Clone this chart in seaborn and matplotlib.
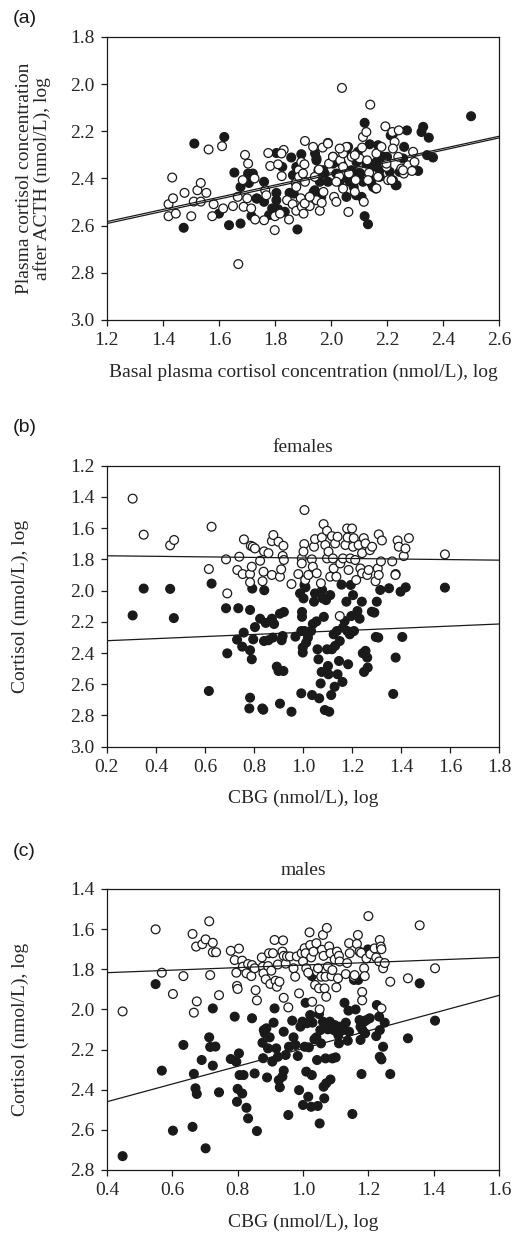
import matplotlib
matplotlib.use("Agg")
import matplotlib.pyplot as plt
import seaborn as sns
import pandas as pd

# ---- panel (a): basal vs post-ACTH cortisol ----
a_open = [
    (1.433, 2.396), (1.420, 2.509), (1.436, 2.484), (1.420, 2.560), (1.446, 2.549),
    (1.477, 2.461), (1.501, 2.560), (1.510, 2.498), (1.523, 2.450), (1.535, 2.419),
    (1.535, 2.498), (1.555, 2.461), (1.563, 2.277), (1.581, 2.509), (1.576, 2.560),
    (1.611, 2.263), (1.615, 2.527), (1.650, 2.517), (1.667, 2.478), (1.669, 2.763),
    (1.693, 2.300), (1.685, 2.407), (1.704, 2.337), (1.701, 2.484), (1.688, 2.520),
    (1.715, 2.527), (1.727, 2.400), (1.729, 2.574), (1.761, 2.577), (1.765, 2.450),
    (1.769, 2.471), (1.776, 2.292), (1.783, 2.347), (1.799, 2.619), (1.800, 2.560),
    (1.811, 2.340), (1.824, 2.390), (1.831, 2.279), (1.823, 2.294), (1.818, 2.549),
    (1.843, 2.492), (1.850, 2.574), (1.863, 2.509), (1.876, 2.537), (1.874, 2.419),
    (1.885, 2.365), (1.894, 2.330), (1.886, 2.393), (1.892, 2.484), (1.896, 2.520),
    (1.902, 2.549), (1.907, 2.241), (1.907, 2.414), (1.905, 2.340), (1.924, 2.517),
    (1.936, 2.266), (1.942, 2.393), (1.948, 2.492), (1.960, 2.537), (1.967, 2.503),
    (1.970, 2.269), (1.957, 2.362), (1.973, 2.457), (1.989, 2.249), (1.993, 2.337),
    (2.007, 2.308), (2.011, 2.478), (2.019, 2.499), (2.029, 2.390), (2.033, 2.323),
    (2.039, 2.016), (2.043, 2.294), (2.055, 2.266), (2.062, 2.542), (2.064, 2.379),
    (2.043, 2.443), (2.074, 2.308), (2.085, 2.457), (2.088, 2.407), (2.102, 2.315),
    (2.111, 2.269), (2.114, 2.224), (2.117, 2.499), (2.126, 2.203), (2.140, 2.087),
    (2.129, 2.323), (2.136, 2.376), (2.162, 2.294), (2.168, 2.393), (2.160, 2.443),
    (2.194, 2.179), (2.180, 2.266), (2.198, 2.351), (2.204, 2.407), (2.219, 2.203),
    (2.227, 2.245), (2.221, 2.273), (2.242, 2.196), (2.240, 2.308), (2.251, 2.358),
    (2.260, 2.379), (2.275, 2.344), (2.293, 2.287), (2.298, 2.330), (2.289, 2.368),
    (1.989, 2.252), (2.031, 2.273), (2.043, 2.351), (2.019, 2.414), (2.085, 2.301),
    (2.132, 2.407), (2.162, 2.442), (2.198, 2.337), (2.216, 2.407), (2.257, 2.365),
    (1.900, 2.379), (1.876, 2.436), (1.906, 2.506), (1.924, 2.478),
]
a_filled = [
    (1.512, 2.252), (1.619, 2.224), (1.474, 2.609), (1.600, 2.549), (1.636, 2.598),
    (1.655, 2.375), (1.677, 2.591), (1.677, 2.436), (1.704, 2.379), (1.721, 2.379),
    (1.707, 2.419), (1.716, 2.559), (1.736, 2.485), (1.761, 2.414), (1.761, 2.499),
    (1.779, 2.555), (1.790, 2.527), (1.805, 2.461), (1.805, 2.492), (1.835, 2.541),
    (1.826, 2.351), (1.858, 2.311), (1.852, 2.461), (1.867, 2.464), (1.880, 2.616),
    (1.894, 2.297), (1.876, 2.351), (1.864, 2.386), (1.805, 2.292), (1.938, 2.457),
    (1.948, 2.323), (1.955, 2.365), (1.943, 2.294), (1.960, 2.414), (1.965, 2.478),
    (1.989, 2.414), (1.977, 2.379), (2.007, 2.337), (2.019, 2.379), (2.031, 2.414),
    (2.037, 2.337), (2.055, 2.478), (2.061, 2.266), (2.067, 2.414), (2.073, 2.365),
    (2.081, 2.436), (2.090, 2.471), (2.096, 2.287), (2.105, 2.379), (2.114, 2.414),
    (2.120, 2.164), (2.120, 2.560), (2.132, 2.594), (2.138, 2.255), (2.140, 2.407),
    (2.148, 2.351), (2.150, 2.436), (2.162, 2.330), (2.168, 2.259), (2.174, 2.365),
    (2.186, 2.308), (2.213, 2.217), (2.221, 2.407), (2.231, 2.429), (2.245, 2.372),
    (2.257, 2.315), (2.261, 2.266), (2.271, 2.196), (2.311, 2.368), (2.323, 2.203),
    (2.329, 2.181), (2.349, 2.227), (2.343, 2.301), (2.364, 2.311), (2.500, 2.136),
    (2.200, 2.308), (1.948, 2.315), (1.972, 2.365), (2.007, 2.308), (2.055, 2.280),
    (2.061, 2.400), (2.091, 2.330), (2.096, 2.379), (2.126, 2.337), (2.144, 2.421),
    (2.162, 2.344), (2.174, 2.393), (2.109, 2.478), (1.942, 2.450), (2.234, 2.428),
    (2.210, 2.372), (2.222, 2.209), (1.734, 2.485), (1.811, 2.530),
]
a_line_x = [1.2, 2.6]
a_line_y1 = [2.583, 2.221]
a_line_y2 = [2.591, 2.228]

# ---- panel (b): females, CBG vs cortisol ----
b_open = [
    (0.305, 1.411), (0.350, 1.642), (0.458, 1.710), (0.474, 1.676), (0.627, 1.591),
    (0.616, 1.862), (0.686, 1.800), (0.691, 2.018), (0.732, 1.868), (0.740, 1.783),
    (0.759, 1.672), (0.754, 1.894), (0.784, 1.894), (0.784, 1.947), (0.791, 1.847),
    (0.787, 1.713), (0.795, 1.719), (0.804, 1.730), (0.825, 1.809), (0.839, 1.879),
    (0.841, 1.749), (0.835, 1.940), (0.859, 1.760), (0.873, 1.683), (0.879, 1.644),
    (0.873, 1.900), (0.900, 1.687), (0.906, 1.911), (0.911, 1.864), (0.917, 1.778),
    (0.920, 1.713), (0.922, 1.804), (0.953, 1.958), (0.981, 1.894), (0.995, 1.794),
    (0.995, 1.826), (1.005, 1.702), (1.006, 1.484), (1.002, 1.750), (1.009, 1.932),
    (1.022, 1.900), (1.036, 1.800), (1.040, 1.847), (1.045, 1.719), (1.049, 1.670),
    (1.056, 1.889), (1.073, 1.953), (1.077, 1.660), (1.084, 1.574), (1.091, 1.708),
    (1.098, 1.617), (1.098, 1.794), (1.104, 1.750), (1.111, 1.911), (1.118, 1.651),
    (1.122, 1.794), (1.125, 1.858), (1.131, 1.698), (1.141, 1.655), (1.136, 1.911),
    (1.152, 1.826), (1.163, 1.794), (1.173, 1.708), (1.180, 1.602), (1.182, 1.660),
    (1.186, 1.868), (1.193, 1.794), (1.200, 1.602), (1.204, 1.719), (1.207, 1.664),
    (1.213, 1.804), (1.217, 1.932), (1.227, 1.708), (1.234, 1.858), (1.241, 1.760),
    (1.241, 1.889), (1.248, 1.664), (1.255, 1.698), (1.262, 1.900), (1.268, 1.868),
    (1.273, 1.741), (1.282, 1.719), (1.296, 1.940), (1.305, 1.858), (1.309, 1.900),
    (1.309, 1.640), (1.318, 1.813), (1.322, 1.679), (1.364, 1.813), (1.377, 1.900),
    (1.386, 1.679), (1.391, 1.719), (1.411, 1.779), (1.418, 1.730), (1.432, 1.664),
    (1.579, 1.768), (1.150, 2.163),
]
b_filled = [
    (0.305, 2.159), (0.350, 1.987), (0.458, 1.989), (0.473, 2.176), (0.627, 1.955),
    (0.616, 2.643), (0.686, 2.113), (0.691, 2.402), (0.736, 2.113), (0.758, 2.269),
    (0.731, 2.314), (0.752, 2.359), (0.784, 2.124), (0.784, 2.382), (0.791, 2.440),
    (0.784, 2.686), (0.781, 2.755), (0.793, 1.987), (0.804, 2.234), (0.797, 2.312),
    (0.834, 2.755), (0.838, 2.763), (0.842, 1.998), (0.825, 2.180), (0.848, 2.207),
    (0.841, 2.323), (0.859, 2.318), (0.873, 2.180), (0.877, 2.301), (0.882, 2.214),
    (0.893, 2.487), (0.900, 2.515), (0.906, 2.724), (0.906, 2.148), (0.913, 2.318),
    (0.917, 2.291), (0.920, 2.515), (0.922, 2.137), (0.953, 2.776), (0.969, 2.295),
    (0.988, 2.018), (0.993, 2.259), (0.996, 2.137), (0.996, 2.168), (0.999, 2.365),
    (0.999, 2.397), (0.993, 2.658), (1.002, 2.050), (1.006, 2.259), (1.006, 1.964),
    (1.010, 1.979), (1.013, 2.333), (1.020, 2.301), (1.033, 2.259), (1.037, 2.669),
    (1.040, 2.214), (1.045, 2.071), (1.049, 2.018), (1.055, 2.197), (1.059, 2.376),
    (1.063, 2.440), (1.066, 2.690), (1.072, 2.595), (1.076, 2.521), (1.078, 1.996),
    (1.081, 2.050), (1.085, 2.168), (1.089, 2.765), (1.094, 2.061), (1.098, 2.376),
    (1.102, 2.483), (1.104, 2.536), (1.107, 2.776), (1.111, 2.029), (1.115, 2.669),
    (1.118, 2.376), (1.125, 2.280), (1.129, 2.616), (1.131, 2.354), (1.138, 2.259),
    (1.141, 2.536), (1.147, 2.451), (1.150, 2.323), (1.157, 1.962), (1.161, 2.585),
    (1.163, 2.237), (1.170, 2.195), (1.177, 2.071), (1.181, 2.259), (1.184, 2.472),
    (1.191, 2.280), (1.195, 1.964), (1.197, 2.163), (1.204, 2.029), (1.208, 2.259),
    (1.222, 2.131), (1.231, 2.180), (1.240, 2.071), (1.244, 2.401), (1.249, 2.521),
    (1.255, 2.386), (1.262, 2.429), (1.264, 2.493), (1.281, 2.135), (1.291, 2.141),
    (1.297, 2.297), (1.301, 2.071), (1.307, 2.301), (1.315, 1.996), (1.351, 1.985),
    (1.368, 2.662), (1.378, 1.894), (1.378, 2.429), (1.398, 2.007), (1.405, 2.297),
    (1.419, 1.979), (1.579, 1.981),
]
b_line_x = [0.2, 1.8]
b_line_open_y = [1.777, 1.805]
b_line_filled_y = [2.321, 2.214]

# ---- panel (c): males, CBG vs cortisol ----
c_open = [
    (0.448, 2.010), (0.549, 1.601), (0.568, 1.817), (0.602, 1.923), (0.634, 1.834),
    (0.662, 1.624), (0.666, 2.016), (0.673, 1.687), (0.675, 1.960), (0.692, 1.675),
    (0.702, 1.651), (0.713, 1.561), (0.716, 1.829), (0.724, 1.668), (0.724, 1.715),
    (0.734, 1.715), (0.743, 1.929), (0.779, 1.708), (0.791, 1.754), (0.796, 1.817),
    (0.798, 1.883), (0.800, 1.898), (0.804, 1.697), (0.814, 1.757), (0.816, 1.787),
    (0.827, 1.820), (0.832, 1.774), (0.842, 1.834), (0.844, 1.779), (0.852, 1.795),
    (0.855, 1.904), (0.859, 1.955), (0.874, 1.741), (0.877, 1.787), (0.879, 1.820),
    (0.886, 1.850), (0.893, 1.784), (0.896, 1.720), (0.900, 1.873), (0.903, 1.807),
    (0.908, 1.720), (0.913, 1.654), (0.916, 1.857), (0.920, 1.887), (0.923, 1.776),
    (0.928, 1.862), (0.939, 1.656), (0.937, 1.712), (0.941, 1.733), (0.941, 1.942),
    (0.947, 1.772), (0.951, 1.736), (0.955, 1.990), (0.960, 1.736), (0.971, 1.795),
    (0.976, 1.837), (0.981, 1.736), (0.988, 1.920), (0.996, 1.720), (1.000, 1.761),
    (1.005, 1.695), (1.008, 1.720), (1.010, 1.795), (1.016, 1.817), (1.020, 1.616),
    (1.022, 1.679), (1.025, 1.741), (1.028, 1.962), (1.032, 1.712), (1.037, 1.878),
    (1.041, 1.670), (1.043, 1.812), (1.046, 1.795), (1.049, 1.895), (1.051, 2.000),
    (1.056, 1.837), (1.058, 1.703), (1.061, 1.629), (1.063, 1.733), (1.066, 1.895),
    (1.069, 1.837), (1.073, 1.594), (1.071, 1.937), (1.076, 1.787), (1.080, 1.686),
    (1.084, 1.720), (1.087, 1.834), (1.090, 1.804), (1.097, 1.751), (1.102, 1.890),
    (1.104, 1.712), (1.107, 1.845), (1.110, 1.733), (1.112, 1.761), (1.131, 1.824),
    (1.135, 1.769), (1.141, 1.670), (1.143, 1.720), (1.155, 1.837), (1.158, 1.829),
    (1.165, 1.674), (1.168, 1.629), (1.173, 1.712), (1.178, 1.718), (1.181, 1.913),
    (1.181, 1.955), (1.187, 1.795), (1.189, 1.834), (1.194, 1.746), (1.200, 1.535),
    (1.206, 1.724), (1.219, 1.696), (1.224, 1.741), (1.233, 1.761), (1.235, 1.654),
    (1.238, 1.687), (1.240, 1.700), (1.240, 1.995), (1.245, 1.795), (1.250, 1.769),
    (1.267, 1.862), (1.321, 1.845), (1.357, 1.581), (1.404, 1.795),
]
c_filled = [
    (0.448, 2.731), (0.549, 1.874), (0.568, 2.305), (0.602, 2.604), (0.634, 2.177),
    (0.662, 2.585), (0.666, 2.321), (0.671, 2.393), (0.675, 2.421), (0.690, 2.252),
    (0.702, 2.692), (0.713, 2.139), (0.716, 2.187), (0.724, 1.995), (0.724, 2.280),
    (0.732, 2.185), (0.743, 2.413), (0.779, 2.247), (0.791, 2.036), (0.796, 2.261),
    (0.798, 2.460), (0.800, 2.396), (0.804, 2.219), (0.806, 2.327), (0.814, 2.419),
    (0.818, 2.327), (0.827, 2.490), (0.832, 2.543), (0.844, 2.044), (0.852, 2.319),
    (0.859, 2.606), (0.876, 2.166), (0.878, 2.243), (0.880, 2.103), (0.883, 2.119),
    (0.888, 2.094), (0.890, 2.339), (0.893, 2.194), (0.898, 2.139), (0.906, 2.260),
    (0.910, 2.066), (0.913, 1.995), (0.918, 2.194), (0.923, 2.236), (0.926, 2.352),
    (0.929, 2.388), (0.937, 2.335), (0.941, 2.111), (0.941, 2.305), (0.947, 2.227),
    (0.955, 2.526), (0.957, 2.186), (0.967, 2.056), (0.971, 2.139), (0.977, 2.177),
    (0.984, 2.232), (0.988, 2.402), (0.992, 2.086), (0.998, 2.061), (1.000, 2.476),
    (1.005, 2.186), (1.008, 1.967), (1.010, 2.310), (1.012, 2.069), (1.016, 2.435),
    (1.018, 2.189), (1.022, 2.028), (1.025, 2.485), (1.027, 2.327), (1.029, 2.066),
    (1.027, 1.834), (1.035, 2.149), (1.041, 2.139), (1.043, 2.252), (1.045, 2.481),
    (1.049, 2.023), (1.051, 2.568), (1.053, 2.103), (1.055, 2.169), (1.061, 2.061),
    (1.063, 2.385), (1.065, 2.443), (1.069, 2.244), (1.071, 2.368), (1.076, 2.099),
    (1.082, 2.061), (1.084, 2.349), (1.090, 2.244), (1.094, 2.103), (1.097, 2.078),
    (1.100, 2.239), (1.108, 2.128), (1.110, 2.169), (1.112, 2.086), (1.122, 2.103),
    (1.127, 1.967), (1.131, 2.066), (1.137, 2.156), (1.139, 2.006), (1.141, 2.111),
    (1.151, 2.521), (1.156, 1.853), (1.161, 2.000), (1.169, 1.853), (1.173, 2.053),
    (1.176, 2.086), (1.176, 2.152), (1.179, 2.322), (1.182, 2.103), (1.187, 2.061),
    (1.190, 2.119), (1.194, 2.053), (1.199, 1.701), (1.204, 2.044), (1.224, 2.133),
    (1.226, 1.978), (1.233, 2.036), (1.235, 2.103), (1.235, 2.236), (1.240, 2.249),
    (1.245, 2.186), (1.250, 2.066), (1.267, 2.322), (1.321, 2.144), (1.357, 1.870),
    (1.404, 2.056),
]
c_line_x = [0.4, 1.6]
c_line_open_y = [1.817, 1.741]
c_line_filled_y = [2.460, 1.930]

INK = "#1a1a1a"

sns.set_style("ticks")
plt.rcParams["font.family"] = ["Liberation Serif", "DejaVu Serif"]
plt.rcParams["font.size"] = 14

fig = plt.figure(figsize=(5.14, 12.33), dpi=100)


def to_frame(open_pts, filled_pts):
    f = pd.DataFrame(filled_pts, columns=["x", "y"])
    f["group"] = "filled"
    o = pd.DataFrame(open_pts, columns=["x", "y"])
    o["group"] = "open"
    return pd.concat([f, o], ignore_index=True)


def panel(rect, open_pts, filled_pts, xlim, ylim, xticks, yticks):
    ax = fig.add_axes(rect)
    df = to_frame(open_pts, filled_pts)
    sns.scatterplot(data=df, x="x", y="y", hue="group",
                    palette={"filled": INK, "open": "white"},
                    edgecolor=INK, linewidth=0.9, s=40, legend=False, ax=ax,
                    zorder=3)
    ax.set_xlim(*xlim)
    ax.set_ylim(*ylim)
    ax.set_xticks(xticks)
    ax.set_xticklabels([f"{t:.1f}" for t in xticks])
    ax.set_yticks(yticks)
    ax.set_yticklabels([f"{t:.1f}" for t in yticks])
    for s in ax.spines.values():
        s.set_linewidth(0.9)
        s.set_color(INK)
    ax.tick_params(direction="out", length=4, width=0.9, color=INK,
                   labelsize=14, pad=5)
    return ax


# (a)
ax = panel([0.208, 0.7405, 0.763, 0.2295], a_open, a_filled,
           (1.2, 2.6), (3.0, 1.8),
           [1.2, 1.4, 1.6, 1.8, 2.0, 2.2, 2.4, 2.6],
           [1.8, 2.0, 2.2, 2.4, 2.6, 2.8, 3.0])
ax.plot(a_line_x, a_line_y1, color=INK, lw=0.9, zorder=4)
ax.plot(a_line_x, a_line_y2, color=INK, lw=0.9, zorder=4)
ax.set_xlabel("Basal plasma cortisol concentration (nmol/L), log", labelpad=10)
ax.set_ylabel("Plasma cortisol concentration\nafter ACTH (nmol/L), log",
              linespacing=1.0)
ax.yaxis.set_label_coords(-0.142, 0.5)

# (b)
ax = panel([0.208, 0.3944, 0.763, 0.2279], b_open, b_filled,
           (0.2, 1.8), (3.0, 1.2),
           [0.2, 0.4, 0.6, 0.8, 1.0, 1.2, 1.4, 1.6, 1.8],
           [1.2, 1.4, 1.6, 1.8, 2.0, 2.2, 2.4, 2.6, 2.8, 3.0])
ax.plot(b_line_x, b_line_open_y, color=INK, lw=0.9, zorder=4)
ax.plot(b_line_x, b_line_filled_y, color=INK, lw=0.9, zorder=4)
ax.set_title("females", fontsize=14, pad=10)
ax.set_xlabel("CBG (nmol/L), log", labelpad=10)
ax.set_ylabel("Cortisol (nmol/L), log")
ax.yaxis.set_label_coords(-0.198, 0.5)

# (c)
ax = panel([0.208, 0.0511, 0.763, 0.2279], c_open, c_filled,
           (0.4, 1.6), (2.8, 1.4),
           [0.4, 0.6, 0.8, 1.0, 1.2, 1.4, 1.6],
           [1.4, 1.6, 1.8, 2.0, 2.2, 2.4, 2.6, 2.8])
ax.plot(c_line_x, c_line_open_y, color=INK, lw=0.9, zorder=4)
ax.plot(c_line_x, c_line_filled_y, color=INK, lw=0.9, zorder=4)
ax.set_title("males", fontsize=14, pad=10)
ax.set_xlabel("CBG (nmol/L), log", labelpad=10)
ax.set_ylabel("Cortisol (nmol/L), log")
ax.yaxis.set_label_coords(-0.198, 0.5)

for tag, y in [("(a)", 0.985), ("(b)", 0.6536), ("(c)", 0.3098)]:
    fig.text(0.025, y, tag, family=["Liberation Sans", "DejaVu Sans"],
             fontsize=14, va="center", ha="left", color=INK)

fig.savefig("out.png", dpi=100)
